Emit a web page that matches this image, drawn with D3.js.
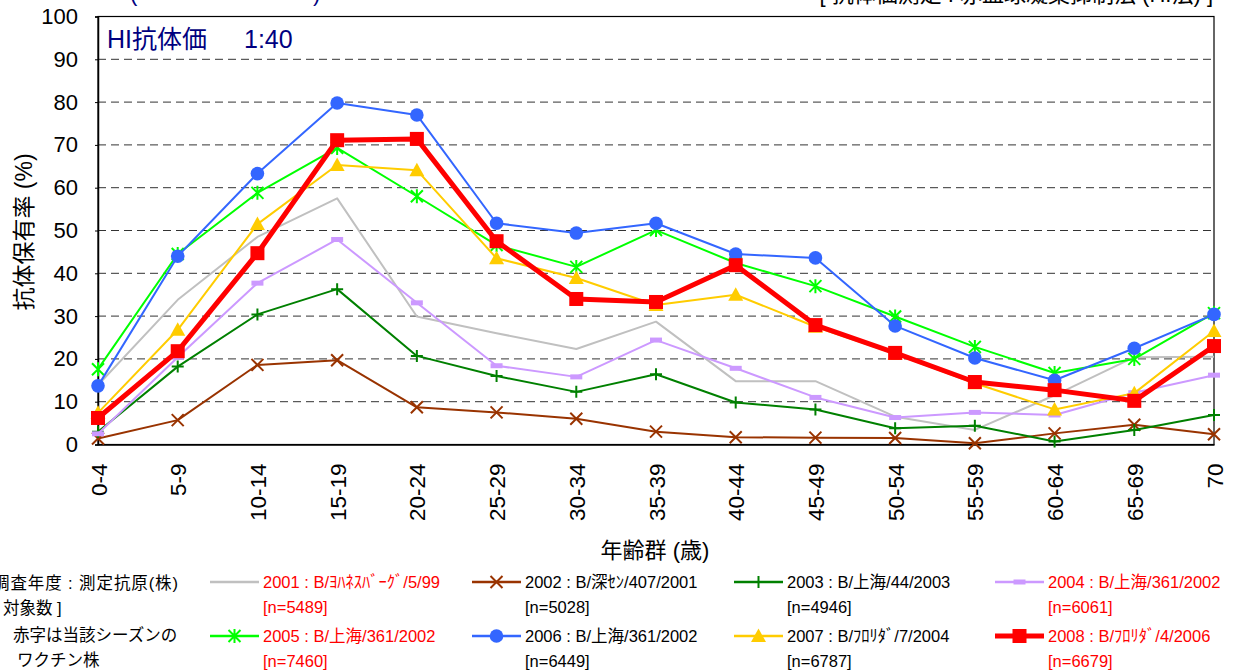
<!DOCTYPE html>
<html><head><meta charset="utf-8">
<script src="https://cdn.jsdelivr.net/npm/d3@7"></script>
<style>
html,body{margin:0;padding:0;background:#fff;overflow:hidden}
text{font-family:"Liberation Sans",Arial,"Noto Sans CJK JP",sans-serif}
</style></head>
<body>
<svg id="c" width="1236" height="670"></svg>
<script>
const ageGroups = ["0-4","5-9","10-14","15-19","20-24","25-29","30-34","35-39","40-44","45-49","50-54","55-59","60-64","65-69","70"];
const yTicks = [0,10,20,30,40,50,60,70,80,90,100];

const s2001 = [13.9,33.8,48.5,57.5,29.9,26.0,22.3,28.7,14.8,14.8,6.5,3.4,11.5,20.4,20.5];
const s2002 = [1.4,5.7,18.6,19.7,8.7,7.5,6.0,3.0,1.7,1.6,1.5,0.3,2.6,4.6,2.4];
const s2003 = [3.0,18.2,30.4,36.3,20.7,16.0,12.3,16.4,9.8,8.2,3.8,4.4,0.7,3.4,6.9];
const s2004 = [2.5,20.4,37.7,47.9,33.1,18.4,15.8,24.4,17.8,11.0,6.3,7.5,6.9,12.1,16.2];
const s2005 = [17.6,44.5,58.8,69.3,58.0,46.6,41.5,50.1,42.4,37.0,29.9,22.8,16.7,20.0,30.7];
const s2006 = [13.7,44.0,63.3,79.8,77.0,51.7,49.4,51.7,44.5,43.6,27.7,20.2,15.0,22.5,30.4];
const s2007 = [7.4,26.8,51.5,65.3,64.1,43.5,38.9,32.6,35.0,27.5,21.2,14.3,8.2,12.0,26.5];
const s2008 = [6.2,21.8,44.7,71.1,71.4,47.5,34.0,33.3,41.9,27.9,21.4,14.6,12.7,10.2,23.0];

const seriesNames = ["2001 : B/ﾖﾊﾈｽﾊﾞｰｸﾞ/5/99","2002 : B/深ｾﾝ/407/2001","2003 : B/上海/44/2003","2004 : B/上海/361/2002",
                     "2005 : B/上海/361/2002","2006 : B/上海/361/2002","2007 : B/ﾌﾛﾘﾀﾞ/7/2004","2008 : B/ﾌﾛﾘﾀﾞ/4/2006"];
const seriesN = ["[n=5489]","[n=5028]","[n=4946]","[n=6061]","[n=7460]","[n=6449]","[n=6787]","[n=6679]"];
const vaccineStrain = [true,false,false,true,true,false,false,true];

const colors = ["#c0c0c0","#993300","#008000","#cc99ff","#00ff00","#3366ff","#ffcc00","#ff0000"];
const markers = ["none","x","plus","dash","star","circle","triangle","square"];
const widths = [2,2,2,2,2,2,2,5];
const allData = [s2001,s2002,s2003,s2004,s2005,s2006,s2007,s2008];

const svg = d3.select("#c");
const L = 98, R = 1214, T = 16.5, B = 444.5;
const x = d3.scalePoint().domain(ageGroups).range([L, R]).padding(0);
const y = d3.scaleLinear().domain([0,100]).range([B, T]);

// gridlines
svg.append("g").selectAll("line").data(yTicks.filter(d => d>0 && d<100)).join("line")
  .attr("x1", L).attr("x2", R).attr("y1", d => y(d)).attr("y2", d => y(d))
  .attr("stroke", "#333").attr("stroke-width", 1).attr("stroke-dasharray", "8,5");

// frame
svg.append("rect").attr("x", L).attr("y", T).attr("width", R-L).attr("height", B-T)
  .attr("fill","none").attr("stroke","#000").attr("stroke-width",1.2);

// y axis
const ya = svg.append("g").attr("transform", `translate(${L},0)`)
  .call(d3.axisLeft(y).tickValues(yTicks).tickSize(3).tickPadding(17).tickFormat(d3.format("d")));
ya.select(".domain").attr("stroke","#000").attr("stroke-width",1.5);
ya.selectAll(".tick line").attr("stroke","#000");
ya.selectAll("text").attr("font-size", 22).attr("fill","#000").style("font-family",'"Liberation Sans",Arial,sans-serif');

// x axis
const xa = svg.append("g").attr("transform", `translate(0,${B})`)
  .call(d3.axisBottom(x).tickSize(0).tickPadding(0));
xa.select(".domain").attr("stroke","#000").attr("stroke-width",1.5);
xa.selectAll("text").attr("font-size", 22.5).attr("fill","#000")
  .attr("text-anchor","end").attr("dy","0")
  .attr("transform", "translate(8,19) rotate(-90)")
  .style("font-family",'"Liberation Sans",Arial,sans-serif');

// marker drawing
function drawMarker(g, type, color, cx, cy) {
  const s = 6;
  if (type === "circle") {
    g.append("circle").attr("cx",cx).attr("cy",cy).attr("r",6.8).attr("fill",color);
  } else if (type === "square") {
    g.append("rect").attr("x",cx-7).attr("y",cy-7).attr("width",14).attr("height",14).attr("fill",color);
  } else if (type === "triangle") {
    g.append("path").attr("d",`M${cx},${cy-7.5}L${cx+7.5},${cy+6}L${cx-7.5},${cy+6}Z`).attr("fill",color);
  } else if (type === "x") {
    g.append("path").attr("d",`M${cx-s},${cy-s}L${cx+s},${cy+s}M${cx-s},${cy+s}L${cx+s},${cy-s}`)
      .attr("stroke",color).attr("stroke-width",2);
  } else if (type === "plus") {
    g.append("path").attr("d",`M${cx-s},${cy}L${cx+s},${cy}M${cx},${cy-s}L${cx},${cy+s}`)
      .attr("stroke",color).attr("stroke-width",2);
  } else if (type === "star") {
    g.append("path").attr("d",`M${cx-s},${cy-s}L${cx+s},${cy+s}M${cx-s},${cy+s}L${cx+s},${cy-s}M${cx},${cy-s-1}L${cx},${cy+s+1}`)
      .attr("stroke",color).attr("stroke-width",2);
  } else if (type === "dash") {
    g.append("rect").attr("x",cx-6).attr("y",cy-2.5).attr("width",12).attr("height",5).attr("fill",color);
  }
}

const line = d3.line().x((d,i) => x(ageGroups[i])).y(d => y(d));
allData.forEach((data, k) => {
  const g = svg.append("g");
  g.append("path").datum(data).attr("d", line).attr("fill","none")
    .attr("stroke", colors[k]).attr("stroke-width", widths[k]).attr("stroke-linejoin","round");
  data.forEach((v,i) => drawMarker(g, markers[k], colors[k], x(ageGroups[i]), y(v)));
});

// titles
svg.append("text").attr("x",107).attr("y",48).attr("font-size",25).attr("fill","#000080").text("HI抗体価");
svg.append("text").attr("x",244).attr("y",48).attr("font-size",25).attr("fill","#000080").text("1:40");
svg.append("text").attr("x",1213).attr("y",2).attr("text-anchor","end").attr("font-size",22).attr("fill","#000")
  .text("[ 抗体価測定 : 赤血球凝集抑制法 (HI法) ]");
svg.append("text").attr("x",130).attr("y",1).attr("font-size",22).attr("fill","#000080").text("(");
svg.append("text").attr("x",313).attr("y",1).attr("font-size",22).attr("fill","#000080").text(")");

svg.append("text").attr("transform","translate(32,232) rotate(-90)").attr("text-anchor","middle")
  .attr("font-size",23).attr("fill","#000").text("抗体保有率 (%)");
svg.append("text").attr("x",655).attr("y",558).attr("text-anchor","middle")
  .attr("font-size",22).attr("fill","#000").text("年齢群 (歳)");

// left legend notes
const fs = 16.5;
svg.append("text").attr("x",-7).attr("y",589).attr("font-size",fs)
  .attr("textLength",185).attr("lengthAdjust","spacing").text("調査年度 : 測定抗原(株)");
svg.append("text").attr("x",3).attr("y",614).attr("font-size",fs).text("対象数 ]");
svg.append("text").attr("x",13).attr("y",641).attr("font-size",fs).text("赤字は当該シーズンの");
svg.append("text").attr("x",17).attr("y",666).attr("font-size",fs).text("ワクチン株");

// legend entries
const colX = [210, 472, 734, 995];
const rowY = [582, 636];
allData.forEach((data, k) => {
  const cx = colX[k % 4], cy = rowY[Math.floor(k / 4)];
  const g = svg.append("g");
  g.append("line").attr("x1",cx).attr("x2",cx+49).attr("y1",cy).attr("y2",cy)
    .attr("stroke",colors[k]).attr("stroke-width",widths[k] === 5 ? 5 : 2.5);
  drawMarker(g, markers[k], colors[k], cx+24.5, cy);
  const tc = vaccineStrain[k] ? "#ff0000" : "#000";
  g.append("text").attr("x",cx+53).attr("y",cy+6).attr("font-size",fs).attr("fill",tc).text(seriesNames[k]);
  g.append("text").attr("x",cx+53).attr("y",cy+31).attr("font-size",fs).attr("fill",tc).text(seriesN[k]);
});
</script>
</body></html>
